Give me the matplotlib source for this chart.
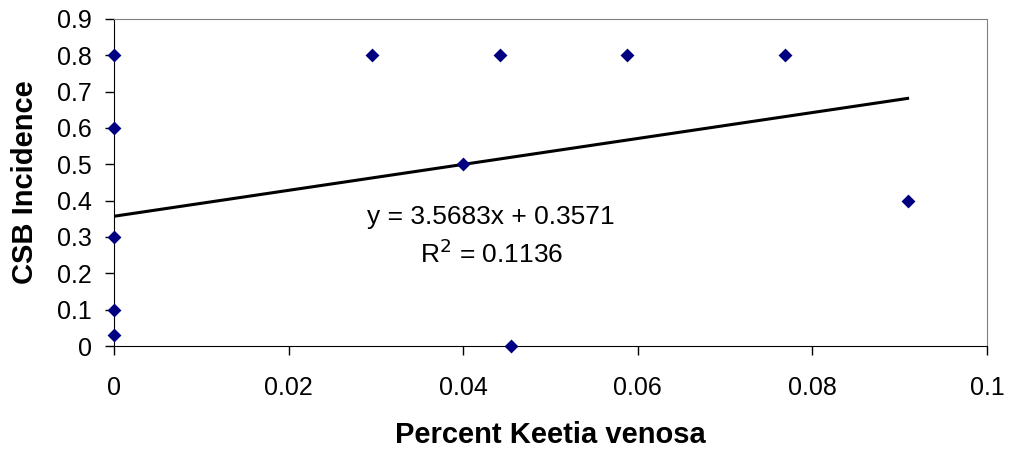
import numpy as np
import matplotlib
matplotlib.use('Agg')
import matplotlib.pyplot as plt

plt.rcParams['font.family'] = ['Liberation Sans', 'DejaVu Sans']

# data
percent_keetia = [0, 0, 0, 0, 0, 0.0295, 0.0442, 0.0588, 0.0769, 0.04, 0.0455, 0.0909]
csb_incidence = [0.8, 0.6, 0.3, 0.1, 0.03, 0.8, 0.8, 0.8, 0.8, 0.5, 0.0, 0.4]

# trend line as printed on the chart
slope = 3.5683
intercept = 0.3571
r_squared = 0.1136

fig = plt.figure(figsize=(10.11, 4.5), dpi=100)
ax = fig.add_axes([0.1128, 0.2311, 0.8635, 0.7267])

ax.scatter(percent_keetia, csb_incidence, marker='D', s=50, color='#000080',
           zorder=3, clip_on=False, linewidths=0)

xt = np.array([min(percent_keetia), max(percent_keetia)])
ax.plot(xt, slope * xt + intercept, color='black', lw=2.2, zorder=2)

ax.text(0.0432, 0.355, f"y = {slope:.4f}x + {intercept:.4f}", fontsize=19,
        ha='center', va='center')
ax.text(0.0433, 0.255, f"R$^2$ = {r_squared:.4f}", fontsize=19,
        ha='center', va='center')

ax.set_xlim(0, 0.1)
ax.set_ylim(0, 0.9)
ax.set_xticks([0, 0.02, 0.04, 0.06, 0.08, 0.1])
ax.set_xticklabels(['0', '0.02', '0.04', '0.06', '0.08', '0.1'])
ax.set_yticks(np.arange(0, 0.91, 0.1))
ax.set_yticklabels(['0', '0.1', '0.2', '0.3', '0.4', '0.5', '0.6', '0.7', '0.8', '0.9'])

ax.tick_params(axis='both', direction='out', length=6.5, width=1, labelsize=18)
ax.tick_params(axis='x', pad=15)
ax.tick_params(axis='y', pad=9.5)

for side in ['top', 'right']:
    ax.spines[side].set_color('#808080')
for side in ['left', 'bottom']:
    ax.spines[side].set_color('black')

ax.set_xlabel('Percent Keetia venosa', fontsize=21, fontweight='bold', labelpad=15)
ax.set_ylabel('CSB Incidence', fontsize=21, fontweight='bold', labelpad=13)

fig.savefig('out.png', dpi=100)
